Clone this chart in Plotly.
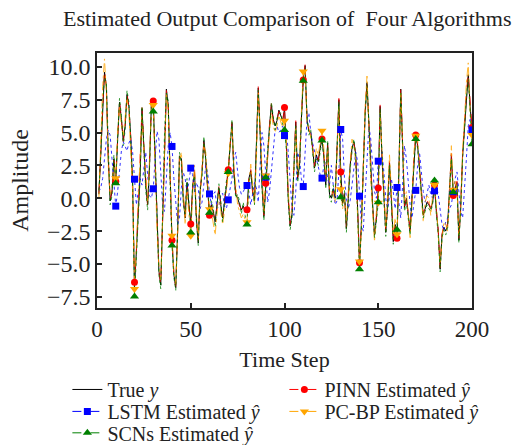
import plotly.graph_objects as go

steps = list(range(1, 201))

true_y = [
    0.3, 3.5, 7.5, 9.6, 8.5, 3.0, -0.2, 0.5, 3.0, 1.2,
    4.5, 7.3, 6.0, 4.4, 5.5, 7.9, 7.0, 4.6, 1.0, -6.8,
    -4.0, -0.5, 1.8, 6.8, 4.0, 1.0, -0.5, 2.5, 7.2, 7.3,
    3.0, -2.0, -5.5, -6.6, -1.0, 4.5, 8.3, 7.0, 1.5, -3.2,
    -5.8, -6.8, -2.5, 3.2, 3.0, 0.0, -1.5, 1.2, -0.5, -1.9,
    0.8, 2.0, -1.5, -3.4, 0.5, 2.0, 4.4, 3.0, 0.8, -1.3,
    -0.5, -1.0, -1.8, -0.5, 0.8, -0.5, -1.5, -0.3, 1.0, 2.1,
    4.0, 5.7, 2.0, 0.3, 0.0, -0.5, -0.9, -0.6, -1.0, -0.9,
    1.5, 2.1, 0.5, -0.2, 3.5, 8.4, 5.0, 1.0, -1.4, 1.2,
    3.5, 5.5, 7.1, 6.0, 5.5, 5.9, 6.7, 6.2, 5.9, 6.8,
    4.0, 0.0, -2.1, -1.2, 2.5, 5.8, 1.5, 2.5, 6.0, 9.1,
    10.1, 6.0, 5.1, 5.0, 3.8, 2.3, 3.3, 2.8, 3.8, 4.5,
    3.2, 1.0, 4.2, 0.3, 0.0, 0.7, 0.0, 4.0, 7.5, 2.0,
    -0.4, 0.3, -2.3, 0.0, 2.5, 3.8, 4.3, 3.3, -1.0, -4.9,
    -2.0, 2.5, 6.5, 8.8, 5.5, 2.0, -0.5, -2.8, -1.5, 0.8,
    7.0, 3.0, 0.2, -2.6, -0.5, 2.7, 0.0, -3.3, -2.0, -3.0,
    2.0, 8.3, 4.0, -0.7, 0.0, -1.5, -2.5, 0.0, 3.0, 4.8,
    4.0, 2.5, 0.5, -1.3, -0.8, -0.3, -0.5, -0.8, -0.3, 0.9,
    -1.0, -2.5, -5.4, -2.8, -2.2, -2.5, -2.0, 0.7, 3.3, 0.3,
    0.8, 1.2, -3.2, -0.5, 3.3, 5.5, 8.0, 9.4, 7.0, 5.2,
]

pinn = [
    0.4, 3.6, 7.6, 9.7, 8.4, 3.1, -0.1, 0.6, 2.9, 1.27,
    4.4, 7.4, 6.1, 4.3, 5.4, 8.0, 6.9, 4.7, 1.1, -6.4,
    -4.1, -0.4, 1.9, 6.9, 3.9, 1.1, -0.6, 2.6, 7.1, 7.4,
    2.9, -2.1, -5.6, -6.5, -0.9, 4.6, 8.2, 7.1, 1.4, -3.2,
    -5.9, -6.7, -2.4, 3.3, 2.9, 0.1, -1.4, 1.1, -0.6, -1.95,
    0.9, 2.1, -1.4, -3.3, 0.6, 1.9, 4.5, 2.9, 0.7, -1.3,
    -0.4, -1.1, -1.7, -0.6, 0.9, -0.4, -1.4, -0.2, 1.1, 2.16,
    4.1, 5.8, 2.1, 0.4, 0.1, -0.6, -0.8, -0.7, -0.9, -0.88,
    1.6, 2.2, 0.4, -0.1, 3.6, 8.5, 4.9, 1.1, -1.3, 1.15,
    3.6, 5.6, 7.2, 5.9, 5.6, 6.0, 6.6, 6.3, 5.8, 6.9,
    4.1, 0.1, -2.0, -1.1, 2.6, 5.9, 1.6, 2.4, 6.1, 9.0,
    10.2, 6.1, 5.2, 4.9, 3.9, 2.4, 3.2, 2.9, 3.9, 4.5,
    3.3, 1.1, 4.1, 0.4, 0.1, 0.6, 0.1, 4.1, 7.6, 2.0,
    -0.3, 0.4, -2.2, 0.1, 2.6, 3.9, 4.2, 3.4, -0.9, -4.9,
    -1.9, 2.6, 6.6, 8.9, 5.4, 2.1, -0.4, -2.7, -1.4, 0.77,
    7.1, 3.1, 0.3, -2.5, -0.4, 2.8, 0.1, -3.2, -2.1, -3.04,
    2.1, 8.4, 4.1, -0.6, 0.1, -1.4, -2.4, 0.1, 3.1, 4.82,
    4.1, 2.6, 0.6, -1.2, -0.7, -0.2, -0.4, -0.7, -0.2, 1.0,
    -0.9, -2.4, -5.3, -2.7, -2.1, -2.4, -1.9, 0.8, 3.4, 0.2,
    0.9, 1.3, -3.1, -0.4, 3.4, 5.6, 8.1, 9.5, 7.1, 5.38,
]

lstm = [
    0.5, 0.8, 1.5, 3.0, 4.5, 5.2, 4.8, 3.0, 1.0, -0.6,
    0.5, 2.0, 3.6, 4.3, 4.0, 3.6, 4.2, 4.5, 3.5, 1.45,
    -0.5, 0.5, 1.5, 1.0, 2.5, 3.5, 1.8, 0.2, 0.0, 0.72,
    3.0, 5.1, 4.5, 2.0, -0.5, -1.0, 1.5, 4.0, 5.0, 3.94,
    1.5, -0.5, -2.0, -1.5, 0.8, 2.0, 1.5, 0.5, 1.2, 2.29,
    1.8, 0.5, 1.2, 0.8, -0.8, -0.3, 1.0, 2.5, 2.0, 0.33,
    -0.5, 0.3, 0.5, -0.8, -0.6, 0.2, 0.4, -0.6, -0.8, -0.12,
    0.8, 1.5, 3.0, 3.5, 2.0, 0.8, 0.3, 0.5, 0.8, 0.97,
    0.5, -0.5, 0.3, 1.2, 0.8, -0.3, 2.5, 5.0, 4.0, 1.6,
    -0.3, 0.5, 2.0, 4.0, 5.2, 5.5, 5.0, 5.2, 5.5, 4.77,
    5.2, 3.5, 1.0, -0.8, -1.3, 0.5, 3.5, 3.0, 1.5, 0.89,
    3.5, 6.0, 6.5, 5.0, 4.2, 3.6, 3.0, 2.4, 1.8, 1.53,
    2.5, 2.8, 1.5, 1.0, 2.5, 1.0, -0.5, -0.2, 2.0, 5.23,
    4.5, 1.5, 0.0, -0.8, -0.2, 1.0, 2.5, 3.5, 2.8, 0.16,
    -2.0, -2.5, 0.0, 3.0, 5.5, 4.5, 2.5, 0.5, 0.0, 2.82,
    2.5, 3.5, 2.0, 0.0, -1.0, 0.5, 1.5, 0.5, -0.8, 0.82,
    -0.5, -1.5, 1.0, 4.0, 3.0, 1.0, -0.5, -1.5, -0.5, 0.6,
    2.5, 3.5, 2.0, 0.5, -0.3, 0.5, 1.0, 0.3, 0.0, 0.56,
    0.9, 0.3, -0.8, -2.0, -2.5, -1.8, -1.5, -0.8, -0.5, 0.5,
    1.5, 2.0, 0.5, -1.0, -1.5, 0.5, 3.0, 5.5, 6.0, 5.2,
]

pcbp = [
    0.0, 4.0, 8.5, 10.6, 8.0, 2.5, 0.3, 1.0, 2.5, 1.53,
    5.0, 7.0, 5.5, 4.8, 6.0, 7.5, 6.5, 4.0, 0.5, -6.9,
    -3.5, 0.0, 2.3, 6.3, 3.5, 1.5, -0.2, 3.0, 6.8, 7.1,
    2.5, -2.5, -5.0, -6.2, -1.5, 4.0, 8.0, 6.5, 2.0, -2.86,
    -5.5, -6.5, -3.0, 2.8, 3.5, 0.5, -2.0, 0.5, -1.0, -2.86,
    0.2, 2.5, -1.0, -3.0, 0.0, 2.5, 4.0, 3.5, 1.2, -0.83,
    -1.0, -2.0, -2.8, -1.2, 0.3, -1.0, -2.0, -1.0, 0.5, 1.9,
    4.5, 5.3, 2.5, 0.8, -0.5, -1.0, -1.5, -1.2, -1.6, -1.82,
    1.0, 2.6, 1.0, -0.5, 3.0, 8.0, 5.5, 1.5, -1.0, 1.73,
    3.0, 5.0, 6.5, 5.5, 5.0, 5.5, 6.3, 5.8, 5.4, 5.9,
    4.5, 0.5, -1.5, -0.8, 2.0, 5.3, 2.0, 3.0, 6.5, 9.64,
    9.8, 5.5, 5.5, 4.5, 3.4, 2.8, 3.8, 3.3, 4.2, 5.13,
    3.8, 1.5, 3.8, 0.8, 0.5, 0.3, -0.3, 3.5, 7.0, 0.69,
    -0.8, 0.0, -1.8, 0.5, 3.0, 4.5, 4.0, 2.8, -1.5, -4.82,
    -2.5, 2.0, 7.0, 9.3, 5.0, 1.5, -1.0, -3.3, -1.0, -0.35,
    6.5, 3.5, 0.8, -2.2, 0.0, 3.3, 0.5, -2.8, -1.5, -2.73,
    1.5, 8.0, 4.5, -0.2, 0.5, -1.0, -3.0, -0.5, 3.5, 4.75,
    4.6, 2.0, 0.0, -1.8, -0.3, 0.2, 0.0, -1.3, 0.2, 1.0,
    -0.5, -3.0, -5.0, -3.2, -1.8, -2.0, -2.5, 0.3, 4.0, 0.65,
    1.3, 0.8, -2.8, -1.0, 3.8, 6.0, 8.8, 10.3, 6.5, 4.82,
]

scns = [
    0.6, 3.2, 7.0, 9.2, 8.8, 3.5, -0.5, 0.2, 3.3, 1.15,
    4.0, 7.6, 6.3, 4.0, 5.2, 8.2, 7.3, 4.2, 1.4, -7.48,
    -4.4, -0.8, 1.5, 7.0, 4.3, 0.6, -0.9, 2.2, 6.9, 6.6,
    3.4, -1.6, -5.8, -6.9, -0.6, 4.9, 8.0, 7.4, 1.0, -3.6,
    -6.0, -7.0, -2.2, 3.5, 2.6, -0.4, -1.2, 1.5, -0.2, -2.6,
    1.2, 1.7, -1.8, -3.6, 0.8, 1.6, 4.7, 2.6, 0.4, -1.1,
    -0.2, -0.7, -2.2, -0.2, 1.1, -0.2, -1.8, 0.0, 1.3, 2.0,
    3.7, 6.0, 1.7, 0.0, 0.3, -0.2, -1.2, -0.3, -1.3, -2.0,
    1.2, 1.8, 0.8, -0.5, 3.8, 8.2, 4.7, 0.7, -1.7, 1.58,
    3.8, 5.2, 7.3, 6.2, 5.2, 6.1, 6.4, 6.5, 5.6, 5.2,
    3.7, -0.3, -2.4, -1.5, 2.8, 5.5, 1.2, 2.2, 5.8, 8.93,
    9.9, 6.3, 4.8, 5.2, 3.5, 2.0, 3.0, 2.5, 3.5, 4.4,
    3.0, 0.7, 4.4, 0.0, -0.3, 1.0, 0.3, 3.7, 7.3, 0.08,
    -0.6, 0.6, -2.6, -0.3, 2.2, 3.5, 4.5, 3.0, -1.3, -5.4,
    -2.3, 2.3, 6.3, 8.6, 5.8, 1.8, -0.8, -3.0, -1.8, -0.3,
    6.8, 2.7, 0.0, -2.9, -0.8, 2.5, -0.3, -3.5, -2.3, -2.4,
    2.3, 8.0, 3.7, -1.0, -0.3, -1.8, -2.8, 0.3, 2.7, 4.5,
    3.8, 2.3, 0.3, -1.5, -1.0, -0.5, -0.8, -1.0, -0.5, 1.35,
    -1.3, -2.8, -5.6, -3.0, -2.4, -2.8, -2.2, 0.5, 3.0, 0.45,
    0.5, 1.0, -3.4, -0.8, 3.0, 5.2, 7.7, 9.1, 6.7, 4.1,
]

FONT = "Liberation Serif, Times New Roman, serif"
EVERY = 10

# name, values, colour, dash, marker symbol, marker size, legend row
series = [
    ("PINN Estimated <i>ŷ</i>", pinn, "red", "dash", "circle", 7, "legend"),
    ("LSTM Estimated <i>ŷ</i>", lstm, "blue", "dot", "square", 7, "legend2"),
    ("PC-BP Estimated <i>ŷ</i>", pcbp, "orange", "dashdot", "triangle-down", 8, "legend2"),
    ("SCNs Estimated <i>ŷ</i>", scns, "green", "dot", "triangle-up", 8, "legend3"),
]

fig = go.Figure()

fig.add_trace(go.Scatter(x=steps, y=true_y, mode="lines", name="True <i>y</i>",
                         line=dict(color="black", width=1), legend="legend"))

for name, vals, color, dash, sym, size, lg in series:
    fig.add_trace(go.Scatter(x=steps, y=vals, mode="lines", showlegend=False,
                             line=dict(color=color, width=1, dash=dash), opacity=0.8))

for name, vals, color, dash, sym, size, lg in series:
    fig.add_trace(go.Scatter(x=steps[EVERY - 1::EVERY], y=vals[EVERY - 1::EVERY], mode="markers",
                             showlegend=False,
                             marker=dict(color=color, symbol=sym, size=size, line=dict(width=0))))

# legend entries (line + marker), one legend per row
for name, vals, color, dash, sym, size, lg in series:
    fig.add_trace(go.Scatter(x=[None], y=[None], mode="lines+markers", name=name, legend=lg,
                             line=dict(color=color, width=1, dash="dash"),
                             marker=dict(color=color, symbol=sym, size=size)))

leg = dict(orientation="h", x=-0.079, xanchor="left", yanchor="top",
           entrywidth=172, entrywidthmode="pixels", font=dict(size=20),
           bgcolor="rgba(0,0,0,0)", traceorder="normal")

fig.update_layout(
    width=527, height=445,
    margin=dict(l=97, r=55, t=53, b=137, autoexpand=False),
    paper_bgcolor="white", plot_bgcolor="white",
    font=dict(family=FONT, size=21, color="#222"),
    title=dict(text="Estimated Output Comparison of  Four Algorithms", x=0.545, xanchor="center",
               y=0.96, yanchor="middle", font=dict(size=22)),
    legend=dict(leg, y=-0.243),
    legend2=dict(leg, y=-0.329),
    legend3=dict(leg, y=-0.413),
    showlegend=True,
)

fig.update_xaxes(range=[0, 200], tickvals=[0, 50, 100, 150, 200], ticks="inside", ticklen=5,
                 tickwidth=1.5, tickcolor="#222", showline=True, linecolor="#222", linewidth=1.5,
                 mirror=True, showgrid=False, zeroline=False, tickfont=dict(size=23),
                 title=dict(text="Time Step", standoff=10, font=dict(size=22)))
fig.update_yaxes(range=[-8.35, 11.05], tick0=0, dtick=2.5, tickformat=".1f", ticks="inside",
                 ticklen=5, tickwidth=1.5, tickcolor="#222", showline=True, linecolor="#222",
                 linewidth=1.5, mirror=True, showgrid=False, zeroline=False,
                 tickfont=dict(size=24), title=dict(text="Amplitude", standoff=12, font=dict(size=24)))

fig.write_html("out.html", config={"displayModeBar": False},
               post_script="document.body.style.margin='0px';")
